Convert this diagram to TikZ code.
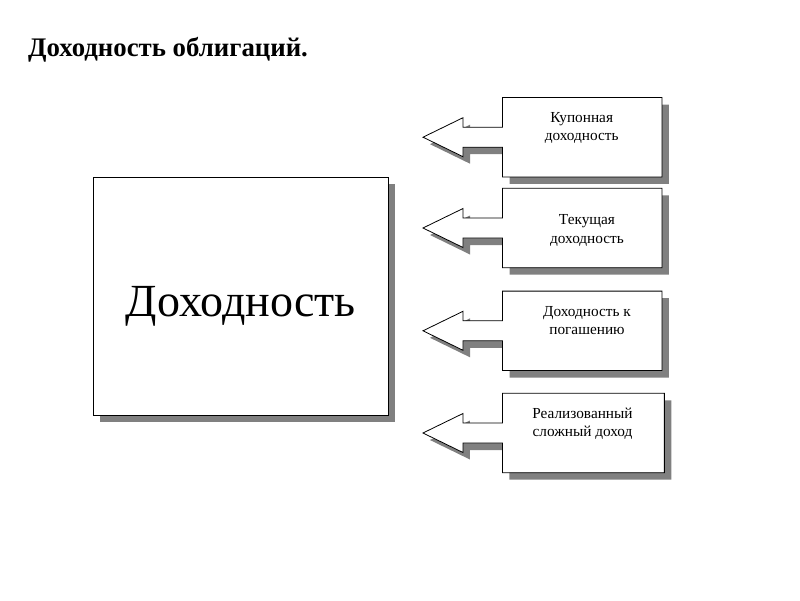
\documentclass[tikz,border=0pt]{standalone}
\usepackage{fontspec}
\setmainfont{Liberation Serif}
\usepackage{xcolor}
\usepackage{tikz}
\usetikzlibrary{calc, shadows}

\definecolor{shadowgray}{RGB}{128,128,128}

\newcommand{\arrowbox}[1]{(#1.north west) -- (#1.north east) -- (#1.south east) -- (#1.south west) -- ($(#1.west)+(0,10)$) -- ++(-39.5,0) -- ++(0,9.5) -- ($(#1.west)+(-79.5,0)$) -- ($(#1.west)+(-39.5,-19.5)$) -- ++(0,9.5) -- ($(#1.west)+(0,-10)$) -- cycle}

\begin{document}
\begin{tikzpicture}[
          x=1pt, y=-1pt,
          bigbox/.style={draw, fill=white, line width=0.8pt, minimum width=295pt, minimum height=238pt,
            drop shadow={shadow xshift=7pt, shadow yshift=-7pt, fill=shadowgray, opacity=1}},
          infobox/.style={minimum width=159pt, minimum height=79pt, inner sep=0pt},
          infotext/.style={anchor=north, align=center, inner sep=0pt, font=\fontsize{15.3}{18.5}\selectfont},
          bigtext/.style={anchor=base, inner sep=0pt, font=\fontsize{46}{54}\selectfont},
          titletext/.style={anchor=base west, inner sep=0pt, font=\bfseries\fontsize{26.8}{32}\selectfont}
        ]
          \useasboundingbox (0,0) rectangle (800,600);
          \node[titletext] (title) at (28,56.7) {Доходность облигаций.};

          \node[bigbox] (main) at (240.8,296.2) {};
          \node[bigtext] (mainlabel) at (240.8,316.7) {Доходность};

          \node[infobox] (kupon) at (582.2,137.2) {};
          \node[infobox] (tekush) at (582.2,228) {};
          \node[infobox] (pogash) at (582.2,330.8) {};
          \node[infobox, minimum width=161.5pt] (realiz) at (583.4,433) {};

          \foreach \b in {kupon, tekush, pogash, realiz} {
            \fill[shadowgray, transform canvas={shift={(7pt,-7pt)}}] \arrowbox{\b};
            \filldraw[fill=white, line width=0.8pt] \arrowbox{\b};
          }

          \node[infotext] (kuponlabel) at ($(kupon.north)+(-0.5,14.5)$) {Купонная\\доходность};
          \node[infotext] (tekushlabel) at ($(tekush.north)+(4.8,26.1)$) {Текущая\\доходность};
          \node[infotext] (pogashlabel) at ($(pogash.north)+(4.8,15.1)$) {Доходность к\\погашению};
          \node[infotext] (realizlabel) at ($(realiz.north)+(-0.9,14.1)$) {Реализованный\\сложный доход};
        \end{tikzpicture}
\end{document}
